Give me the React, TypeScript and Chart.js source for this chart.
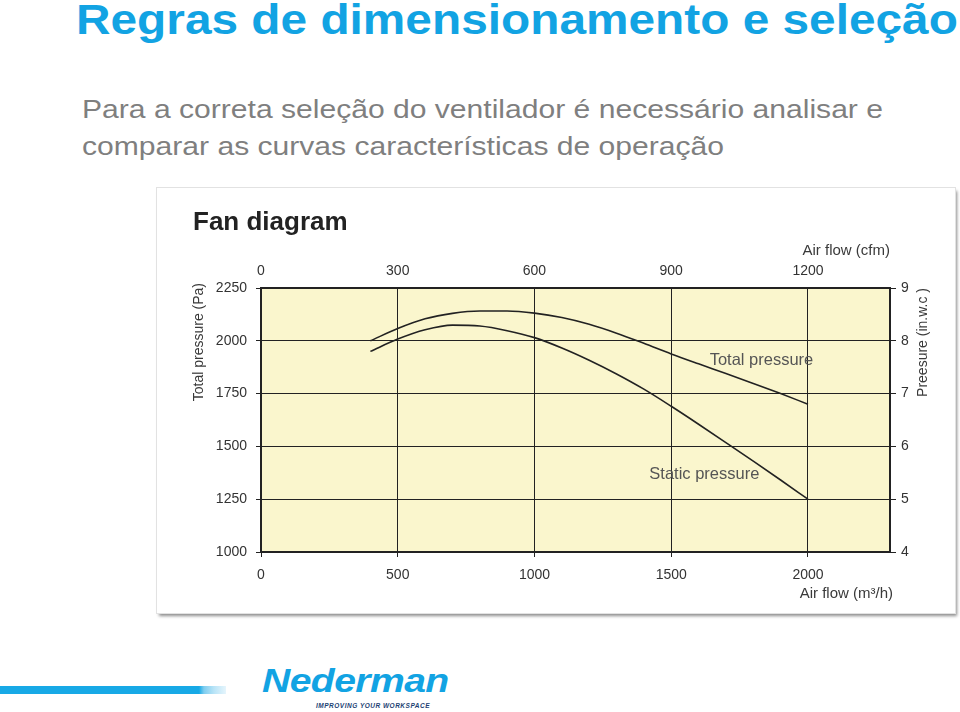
import React, { useEffect, useRef } from 'react';
import { Chart, registerables } from 'chart.js';

Chart.register(...registerables);

// ---- data ----
const airflowM3h = [400, 500, 600, 700, 800, 900, 1000, 1100, 1200, 1300, 1400, 1500, 1600, 1700, 1800, 1900, 2000];
const totalPressurePa = [2000, 2058, 2104, 2130, 2141, 2141, 2131, 2110, 2078, 2036, 1988, 1938, 1891, 1845, 1798, 1750, 1700];
const staticPressurePa = [1950, 2008, 2052, 2074, 2070, 2048, 2015, 1966, 1908, 1843, 1771, 1690, 1605, 1518, 1430, 1341, 1250];

const seriesNames = ['Total pressure', 'Static pressure'];
const seriesLabelAnchors = [
  { x: 1830, y: 1905 },
  { x: 1621, y: 1367 },
];

// axes ranges and tick values
const xRangeM3h = [0, 2300];
const xTicksM3h = [0, 500, 1000, 1500, 2000];
const cfmPerM3h = 0.6;
const xTicksCfm = [0, 300, 600, 900, 1200];
const yRangePa = [1000, 2250];
const yTicksPa = [1000, 1250, 1500, 1750, 2000, 2250];
const yRangeInWc = [4, 9];
const yTicksInWc = [4, 5, 6, 7, 8, 9];

const titleText = 'Regras de dimensionamento e seleção';
const subtitleLines = [
  'Para a correta seleção do ventilador é necessário analisar e',
  'comparar as curvas características de operação',
];
const chartTitle = 'Fan diagram';
const axisTitles = {
  top: 'Air flow (cfm)',
  bottom: 'Air flow (m³/h)',
  left: 'Total pressure (Pa)',
  right: 'Preesure (in.w.c )',
};

const FONT = '"Liberation Sans", Arial, Helvetica, sans-serif';
const PLOT_BG = '#FAF6CD';
const INK = '#222222';

const plotBgPlugin = {
  id: 'plotBg',
  beforeDraw(chart: any) {
    const { ctx, chartArea: a } = chart;
    ctx.save();
    ctx.fillStyle = PLOT_BG;
    ctx.fillRect(a.left, a.top, a.right - a.left, a.bottom - a.top);
    ctx.restore();
  },
};

const textPlugin = {
  id: 'extraTexts',
  afterDraw(chart: any) {
    const { ctx, chartArea: a, scales } = chart;
    ctx.save();
    ctx.fillStyle = '#3a3a3a';
    ctx.textBaseline = 'middle';

    ctx.font = `15px ${FONT}`;
    ctx.textAlign = 'right';
    ctx.fillText(axisTitles.top, a.right, a.top - 37);
    ctx.fillText(axisTitles.bottom, a.right + 3, a.bottom + 42);

    ctx.font = `14px ${FONT}`;
    ctx.save();
    ctx.translate(42.5, a.top - 5);
    ctx.rotate(-Math.PI / 2);
    ctx.textAlign = 'right';
    ctx.fillText(axisTitles.left, 0, 0);
    ctx.restore();

    ctx.save();
    ctx.translate(a.right + 33, a.top);
    ctx.rotate(-Math.PI / 2);
    ctx.textAlign = 'right';
    ctx.fillText(axisTitles.right, 0, 0);
    ctx.restore();

    ctx.font = `16.5px ${FONT}`;
    ctx.fillStyle = '#555555';
    ctx.textAlign = 'center';
    seriesNames.forEach((name, i) => {
      const p = seriesLabelAnchors[i];
      ctx.fillText(name, scales.x.getPixelForValue(p.x), scales.y.getPixelForValue(p.y));
    });
    ctx.restore();
  },
};

const plainNumber = (v: any) => String(v);
const fixedTicks = (values: number[]) => (s: any) => {
  s.ticks = values.map((value) => ({ value }));
};

function FanChart() {
  const ref = useRef<HTMLCanvasElement | null>(null);

  useEffect(() => {
    if (!ref.current) return;
    const mk = (ys: number[]) => airflowM3h.map((x, i) => ({ x, y: ys[i] }));
    const tickFont = { family: FONT, size: 14 };
    const lineStyle = {
      borderColor: INK,
      borderWidth: 1.6,
      pointRadius: 0,
      fill: false,
      tension: 0.4,
      cubicInterpolationMode: 'monotone',
      xAxisID: 'x',
      yAxisID: 'y',
    };
    const chart = new Chart(ref.current, {
      type: 'line',
      data: {
        datasets: [
          { label: seriesNames[0], data: mk(totalPressurePa), ...lineStyle },
          { label: seriesNames[1], data: mk(staticPressurePa), ...lineStyle },
        ],
      },
      options: {
        responsive: false,
        animation: false,
        events: [],
        layout: { padding: { left: 36, top: 0, right: 0, bottom: 0 }, autoPadding: false },
        plugins: {
          legend: { display: false },
          tooltip: { enabled: false },
          title: {
            display: true,
            text: chartTitle,
            align: 'start',
            color: INK,
            font: { family: FONT, size: 26, weight: 'bold', lineHeight: 30 / 26 },
            padding: { top: 20, bottom: 0 },
          },
        },
        scales: {
          x: {
            type: 'linear',
            position: 'bottom',
            min: xRangeM3h[0],
            max: xRangeM3h[1],
            ticks: { color: '#333', font: tickFont, padding: 10, maxRotation: 0, minRotation: 0, autoSkip: false, callback: plainNumber },
            afterBuildTicks: fixedTicks(xTicksM3h),
            grid: { display: true, drawOnChartArea: true, color: INK, lineWidth: 1, tickLength: 5, drawTicks: true },
            border: { display: true, color: INK, width: 2 },
            afterFit: (s: any) => { s.height = 61; },
          },
          x2: {
            type: 'linear',
            position: 'top',
            min: xRangeM3h[0] * cfmPerM3h,
            max: xRangeM3h[1] * cfmPerM3h,
            ticks: { color: '#333', font: tickFont, padding: 8, maxRotation: 0, minRotation: 0, autoSkip: false, callback: plainNumber },
            afterBuildTicks: fixedTicks(xTicksCfm),
            grid: { display: false, drawTicks: false, tickLength: 0 },
            border: { display: true, color: INK, width: 2 },
            afterFit: (s: any) => { s.height = 50; },
          },
          y: {
            type: 'linear',
            position: 'left',
            min: yRangePa[0],
            max: yRangePa[1],
            ticks: { color: '#333', font: tickFont, padding: 9, autoSkip: false, callback: plainNumber },
            afterBuildTicks: fixedTicks(yTicksPa),
            grid: { color: INK, lineWidth: 1, tickLength: 5, drawTicks: true },
            border: { display: true, color: INK, width: 2 },
            afterFit: (s: any) => { s.width = 68; },
          },
          y2: {
            type: 'linear',
            position: 'right',
            min: yRangeInWc[0],
            max: yRangeInWc[1],
            ticks: { color: '#333', font: tickFont, padding: 5, autoSkip: false, callback: plainNumber },
            afterBuildTicks: fixedTicks(yTicksInWc),
            grid: { drawOnChartArea: false, color: INK, lineWidth: 1, tickLength: 6, drawTicks: true },
            border: { display: true, color: INK, width: 2 },
            afterFit: (s: any) => { s.width = 65; },
          },
        },
      },
      plugins: [plotBgPlugin, textPlugin],
    } as any);
    return () => chart.destroy();
  }, []);

  return <canvas ref={ref} width={798} height={425} style={{ display: 'block', width: 798, height: 425 }} />;
}

export default function App() {
  return (
    <div style={{ position: 'absolute', left: 0, top: 0, width: 960, height: 712, background: '#fff', overflow: 'hidden', fontFamily: FONT }}>
      <div
        style={{
          position: 'absolute', left: 76, top: -1, fontSize: 42, lineHeight: '42px', fontWeight: 'bold',
          color: '#12A3E3', whiteSpace: 'nowrap', transform: 'scaleX(1.138)', transformOrigin: 'left top',
        }}
      >
        {titleText}
      </div>
      {subtitleLines.map((line, i) => (
        <div
          key={i}
          style={{
            position: 'absolute', left: 82, top: i === 0 ? 96 : 133, fontSize: 26, lineHeight: '26px',
            color: '#7f7f7f', whiteSpace: 'nowrap', transform: 'scaleX(1.157)', transformOrigin: 'left top',
          }}
        >
          {line}
        </div>
      ))}
      <div
        style={{
          position: 'absolute', left: 157, top: 188, width: 798, height: 425, background: '#fff',
          boxShadow: '0 0 0 1px #e2e2e2, 2px 3px 3px rgba(0,0,0,0.45)',
        }}
      >
        <FanChart />
      </div>
      <div
        style={{
          position: 'absolute', left: 0, top: 686, width: 226, height: 8,
          background: 'linear-gradient(to right, #17A9E6 0px, #17A9E6 199px, #7fcdef 204px, #b9e4f7 214px, #e6f5fc 226px)',
        }}
      />
      <div
        style={{
          position: 'absolute', left: 262, top: 663, fontSize: 34, lineHeight: '34px', fontWeight: 'bold',
          fontStyle: 'italic', color: '#12A3E3', whiteSpace: 'nowrap', transform: 'scaleX(1.15)',
          transformOrigin: 'left top', letterSpacing: -0.5,
        }}
      >
        Nederman
      </div>
      <div
        style={{
          position: 'absolute', left: 316, top: 702, fontSize: 6.5, lineHeight: '8px', fontWeight: 'bold',
          fontStyle: 'italic', color: '#1d3f73', whiteSpace: 'nowrap', letterSpacing: 0.5,
        }}
      >
        IMPROVING YOUR WORKSPACE
      </div>
    </div>
  );
}
